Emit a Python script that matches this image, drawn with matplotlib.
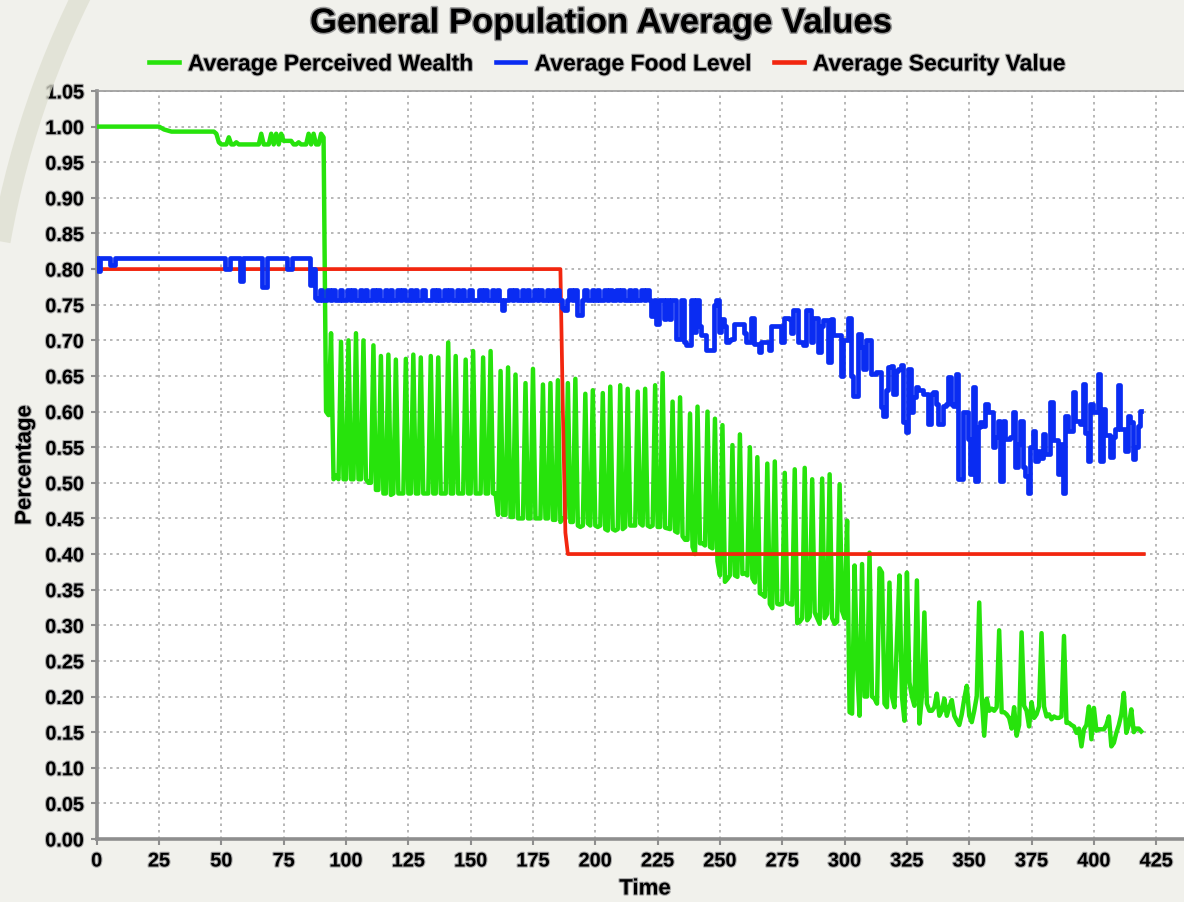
"""
General population average values over time (wealth, food, security).
"""

import matplotlib
matplotlib.use("Agg")
import matplotlib.pyplot as plt
import matplotlib.patheffects as pe
from matplotlib.lines import Line2D
from matplotlib.patches import Arc
import numpy as np

# ---- data (one value per time step) ----
wealth = [
    1.000, 1.000, 1.000, 1.000, 1.000, 1.000, 1.000, 1.000, 1.000, 1.000,
    1.000, 1.000, 1.000, 1.000, 1.000, 1.000, 1.000, 1.000, 1.000, 1.000,
    1.000, 1.000, 1.000, 1.000, 1.000, 1.000, 0.998, 0.996, 0.995, 0.994,
    0.993, 0.993, 0.993, 0.993, 0.993, 0.993, 0.993, 0.993, 0.993, 0.993,
    0.993, 0.993, 0.993, 0.993, 0.993, 0.993, 0.993, 0.993, 0.990, 0.978,
    0.975, 0.975, 0.975, 0.985, 0.975, 0.975, 0.978, 0.975, 0.975, 0.975,
    0.975, 0.975, 0.975, 0.975, 0.975, 0.975, 0.990, 0.975, 0.975, 0.975,
    0.990, 0.975, 0.990, 0.975, 0.990, 0.980, 0.980, 0.980, 0.980, 0.975,
    0.975, 0.978, 0.975, 0.975, 0.975, 0.990, 0.975, 0.990, 0.975, 0.975,
    0.990, 0.985, 0.600, 0.595, 0.710, 0.505, 0.510, 0.505, 0.698, 0.505,
    0.505, 0.700, 0.505, 0.505, 0.710, 0.505, 0.505, 0.700, 0.505, 0.500,
    0.500, 0.693, 0.490, 0.490, 0.678, 0.485, 0.485, 0.680, 0.483, 0.485,
    0.673, 0.485, 0.485, 0.485, 0.674, 0.485, 0.485, 0.680, 0.485, 0.485,
    0.676, 0.485, 0.485, 0.485, 0.678, 0.485, 0.485, 0.676, 0.485, 0.485,
    0.485, 0.697, 0.485, 0.485, 0.678, 0.485, 0.485, 0.485, 0.673, 0.485,
    0.485, 0.685, 0.485, 0.485, 0.485, 0.676, 0.485, 0.485, 0.685, 0.485,
    0.485, 0.455, 0.657, 0.455, 0.455, 0.662, 0.452, 0.452, 0.652, 0.450,
    0.450, 0.450, 0.640, 0.450, 0.450, 0.660, 0.450, 0.450, 0.450, 0.638,
    0.450, 0.450, 0.640, 0.448, 0.448, 0.644, 0.445, 0.450, 0.450, 0.640,
    0.445, 0.445, 0.646, 0.440, 0.438, 0.440, 0.625, 0.443, 0.440, 0.630,
    0.440, 0.438, 0.440, 0.626, 0.435, 0.433, 0.635, 0.435, 0.433, 0.435,
    0.637, 0.435, 0.438, 0.632, 0.440, 0.440, 0.440, 0.628, 0.443, 0.440,
    0.632, 0.440, 0.438, 0.440, 0.637, 0.438, 0.438, 0.654, 0.437, 0.436,
    0.435, 0.614, 0.432, 0.430, 0.620, 0.425, 0.420, 0.420, 0.597, 0.410,
    0.400, 0.607, 0.415, 0.415, 0.412, 0.600, 0.410, 0.408, 0.590, 0.390,
    0.370, 0.581, 0.361, 0.365, 0.370, 0.553, 0.370, 0.368, 0.568, 0.372,
    0.373, 0.370, 0.550, 0.366, 0.360, 0.536, 0.345, 0.343, 0.340, 0.527,
    0.330, 0.324, 0.530, 0.330, 0.329, 0.330, 0.514, 0.332, 0.330, 0.329,
    0.519, 0.303, 0.305, 0.310, 0.521, 0.307, 0.312, 0.505, 0.318, 0.310,
    0.302, 0.506, 0.310, 0.316, 0.512, 0.310, 0.302, 0.305, 0.498, 0.320,
    0.310, 0.447, 0.178, 0.176, 0.384, 0.243, 0.173, 0.386, 0.200, 0.200,
    0.402, 0.200, 0.197, 0.190, 0.380, 0.374, 0.190, 0.185, 0.360, 0.200,
    0.185, 0.280, 0.370, 0.200, 0.166, 0.374, 0.220, 0.200, 0.187, 0.363,
    0.162, 0.200, 0.318, 0.190, 0.180, 0.180, 0.185, 0.204, 0.173, 0.180,
    0.197, 0.173, 0.185, 0.195, 0.173, 0.166, 0.160, 0.175, 0.197, 0.215,
    0.173, 0.164, 0.180, 0.200, 0.332, 0.200, 0.145, 0.197, 0.180, 0.183,
    0.180, 0.185, 0.293, 0.178, 0.178, 0.175, 0.170, 0.155, 0.185, 0.145,
    0.160, 0.290, 0.187, 0.180, 0.158, 0.192, 0.170, 0.175, 0.186, 0.289,
    0.186, 0.172, 0.175, 0.168, 0.172, 0.170, 0.170, 0.172, 0.285, 0.163,
    0.163, 0.160, 0.158, 0.149, 0.155, 0.130, 0.154, 0.160, 0.186, 0.140,
    0.184, 0.152, 0.154, 0.154, 0.154, 0.160, 0.172, 0.130, 0.135, 0.149,
    0.160, 0.175, 0.205, 0.149, 0.160, 0.182, 0.150, 0.155, 0.155, 0.151,
]

food = [
    0.815, 0.797, 0.815, 0.815, 0.815, 0.815, 0.806, 0.806, 0.815, 0.815,
    0.815, 0.815, 0.815, 0.815, 0.815, 0.815, 0.815, 0.815, 0.815, 0.815,
    0.815, 0.815, 0.815, 0.815, 0.815, 0.815, 0.815, 0.815, 0.815, 0.815,
    0.815, 0.815, 0.815, 0.815, 0.815, 0.815, 0.815, 0.815, 0.815, 0.815,
    0.815, 0.815, 0.815, 0.815, 0.815, 0.815, 0.815, 0.815, 0.815, 0.815,
    0.815, 0.815, 0.800, 0.800, 0.815, 0.815, 0.815, 0.815, 0.783, 0.815,
    0.815, 0.815, 0.815, 0.815, 0.815, 0.815, 0.815, 0.775, 0.775, 0.815,
    0.815, 0.815, 0.815, 0.815, 0.815, 0.815, 0.815, 0.800, 0.800, 0.815,
    0.815, 0.815, 0.815, 0.815, 0.815, 0.815, 0.777, 0.800, 0.760, 0.756,
    0.771, 0.756, 0.756, 0.771, 0.756, 0.771, 0.756, 0.756, 0.771, 0.756,
    0.756, 0.771, 0.756, 0.771, 0.756, 0.756, 0.771, 0.756, 0.771, 0.756,
    0.756, 0.771, 0.756, 0.771, 0.756, 0.756, 0.771, 0.756, 0.771, 0.756,
    0.756, 0.771, 0.756, 0.771, 0.756, 0.756, 0.771, 0.756, 0.771, 0.756,
    0.756, 0.771, 0.756, 0.756, 0.756, 0.771, 0.756, 0.771, 0.756, 0.756,
    0.771, 0.756, 0.771, 0.756, 0.756, 0.771, 0.756, 0.771, 0.756, 0.756,
    0.771, 0.756, 0.756, 0.756, 0.771, 0.756, 0.771, 0.756, 0.756, 0.771,
    0.756, 0.771, 0.756, 0.742, 0.756, 0.756, 0.771, 0.756, 0.771, 0.756,
    0.756, 0.771, 0.756, 0.771, 0.756, 0.756, 0.771, 0.756, 0.771, 0.756,
    0.756, 0.771, 0.756, 0.771, 0.756, 0.771, 0.756, 0.745, 0.742, 0.756,
    0.771, 0.756, 0.771, 0.735, 0.735, 0.756, 0.771, 0.756, 0.756, 0.771,
    0.756, 0.771, 0.756, 0.756, 0.771, 0.756, 0.771, 0.756, 0.756, 0.771,
    0.756, 0.771, 0.756, 0.756, 0.771, 0.756, 0.771, 0.756, 0.756, 0.771,
    0.756, 0.771, 0.756, 0.734, 0.756, 0.723, 0.756, 0.756, 0.730, 0.756,
    0.730, 0.756, 0.756, 0.702, 0.702, 0.756, 0.698, 0.693, 0.693, 0.756,
    0.711, 0.756, 0.720, 0.707, 0.707, 0.686, 0.686, 0.686, 0.750, 0.756,
    0.711, 0.730, 0.720, 0.698, 0.700, 0.702, 0.723, 0.723, 0.723, 0.723,
    0.710, 0.698, 0.698, 0.732, 0.695, 0.695, 0.683, 0.697, 0.697, 0.697,
    0.686, 0.720, 0.720, 0.720, 0.720, 0.697, 0.732, 0.732, 0.730, 0.710,
    0.742, 0.742, 0.697, 0.697, 0.693, 0.742, 0.742, 0.697, 0.732, 0.732,
    0.683, 0.720, 0.728, 0.728, 0.669, 0.730, 0.707, 0.707, 0.707, 0.650,
    0.700, 0.700, 0.732, 0.650, 0.622, 0.622, 0.709, 0.690, 0.660, 0.700,
    0.700, 0.653, 0.653, 0.655, 0.655, 0.606, 0.594, 0.630, 0.662, 0.664,
    0.625, 0.657, 0.660, 0.665, 0.585, 0.571, 0.660, 0.600, 0.620, 0.634,
    0.630, 0.630, 0.625, 0.625, 0.583, 0.625, 0.627, 0.611, 0.583, 0.583,
    0.608, 0.611, 0.648, 0.610, 0.608, 0.653, 0.506, 0.506, 0.599, 0.600,
    0.562, 0.513, 0.634, 0.503, 0.578, 0.585, 0.580, 0.611, 0.600, 0.600,
    0.550, 0.564, 0.587, 0.503, 0.587, 0.562, 0.562, 0.564, 0.599, 0.522,
    0.555, 0.587, 0.522, 0.510, 0.485, 0.550, 0.573, 0.530, 0.545, 0.535,
    0.569, 0.540, 0.540, 0.613, 0.560, 0.560, 0.513, 0.555, 0.485, 0.594,
    0.573, 0.573, 0.627, 0.587, 0.587, 0.583, 0.639, 0.570, 0.531, 0.611,
    0.600, 0.600, 0.653, 0.531, 0.604, 0.567, 0.567, 0.536, 0.565, 0.575,
    0.637, 0.575, 0.575, 0.545, 0.594, 0.585, 0.534, 0.550, 0.580, 0.601,
]

security_time = [0, 186, 187, 188, 189, 420]
security = [0.80, 0.80, 0.60, 0.43, 0.40, 0.40]

series_labels = ["Average Perceived Wealth", "Average Food Level", "Average Security Value"]
series_colors = ["#27e30c", "#0a2cf2", "#f2260f"]

x_ticks = np.arange(0, 426, 25)
y_ticks = np.arange(0, 1.0501, 0.05)

# ---- style ----
FONT = "Liberation Sans"
halo = [pe.withStroke(linewidth=1.6, foreground="#a8a8a8")]

fig = plt.figure(figsize=(11.84, 9.02), dpi=100, facecolor="#f1f1ec")

# faint swoosh of the background theme, only in the top-left corner
fig.patches.append(Arc((900, 502), 1826, 1826, theta1=150, theta2=170,
                       transform=None, edgecolor="#dedfd0", linewidth=14,
                       alpha=0.75, zorder=0))

ax = fig.add_axes([96.7 / 1184, 1 - 839 / 902, 1 - 96.7 / 1184, 748 / 902])
ax.set_facecolor("white")

t_wealth = np.arange(len(wealth))
t_food = np.arange(len(food))

ax.plot(t_wealth, wealth, color=series_colors[0], linewidth=3.2, zorder=3)
ax.plot(security_time, security, color=series_colors[2], linewidth=2.7, zorder=4)
ax.plot(t_food, food, color=series_colors[1], linewidth=3.4,
        drawstyle="steps-mid", zorder=5)

ax.set_xlim(0, (1184 - 96.7) / 2.493)
ax.set_ylim(0, 1.05)
ax.set_xticks(x_ticks)
ax.set_yticks(y_ticks)
ax.set_yticklabels([f"{v:.2f}" for v in y_ticks])

ax.grid(True, color="#b2b2b2", linestyle=(0, (1.4, 2.2)), linewidth=1.3, zorder=1)

ax.spines["right"].set_visible(False)
ax.spines["top"].set_color("#9a9a9a")
ax.spines["top"].set_linewidth(1.2)
for side in ("left", "bottom"):
    ax.spines[side].set_color("#8e8e8e")
    ax.spines[side].set_linewidth(2.6)

ax.tick_params(axis="both", colors="#8e8e8e", length=4, width=1.5,
               labelcolor="black", labelsize=14.3, pad=5)
for lbl in ax.get_xticklabels() + ax.get_yticklabels():
    lbl.set_fontfamily(FONT)
    lbl.set_fontweight("bold")
    lbl.set_path_effects(halo)

fig.text(25 / 1184, 1 - 465 / 902, "Percentage", rotation=90, ha="center",
         va="center", fontsize=16, fontweight="bold", family=FONT,
         path_effects=halo)
fig.text(645 / 1184, 1 - 889 / 902, "Time", ha="center", va="center",
         fontsize=16, fontweight="bold", family=FONT, path_effects=halo)

fig.text(601 / 1184, 1 - 23 / 902, "General Population Average Values",
         ha="center", va="center", fontsize=25, fontweight="bold",
         family=FONT, path_effects=[pe.withStroke(linewidth=2.2, foreground="#9a9a9a")])

handles = [Line2D([], [], color=c, linewidth=3.3) for c in series_colors]
leg = fig.legend(handles, series_labels, loc="center", ncol=3,
                 bbox_to_anchor=(607 / 1184, 1 - 64 / 902), frameon=False,
                 handlelength=1.3, handletextpad=0.4, columnspacing=1.0,
                 prop={"family": FONT, "weight": "bold", "size": 16.5})
for txt in leg.get_texts():
    txt.set_path_effects(halo)

fig.savefig("out.png", dpi=100, facecolor=fig.get_facecolor())
